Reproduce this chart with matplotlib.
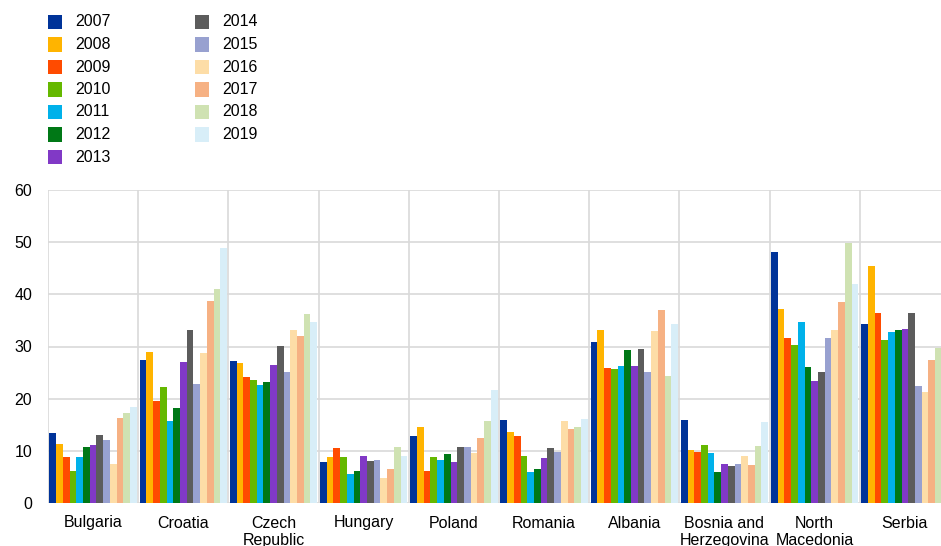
import numpy as np
import matplotlib
matplotlib.use("Agg")
import matplotlib.pyplot as plt
from matplotlib.patches import Rectangle

plt.rcParams['font.family'] = ['Liberation Sans', 'DejaVu Sans']

categories = ["Bulgaria", "Croatia", "Czech\nRepublic", "Hungary", "Poland",
              "Romania", "Albania", "Bosnia and\nHerzegovina", "North\nMacedonia", "Serbia"]
years = ["2007", "2008", "2009", "2010", "2011", "2012", "2013",
         "2014", "2015", "2016", "2017", "2018", "2019"]
colors = ["#003399", "#FFB400", "#FF4B00", "#65B800", "#00B1EA", "#007816", "#8139C6",
          "#5C5C5C", "#98A1D0", "#FDDDA7", "#F6B183", "#CFE2B2", "#D8EEF8"]

# values per country, one entry per year 2007..2019
bulgaria = [13.4, 11.3, 8.9, 6.2, 8.8, 10.7, 11.2, 13.0, 12.0, 7.5, 16.3, 17.2, 18.4]
croatia = [27.4, 29.0, 19.6, 22.3, 15.8, 18.2, 27.1, 33.1, 22.8, 28.8, 38.7, 41.0, 48.9]
czech = [27.2, 26.8, 24.2, 23.6, 22.7, 23.2, 26.4, 30.1, 25.1, 33.1, 32.0, 36.2, 34.7]
hungary = [7.8, 8.9, 10.6, 8.9, 5.6, 6.1, 9.0, 8.0, 8.2, 4.8, 6.6, 10.8, 9.0]
poland = [12.9, 14.5, 6.2, 8.9, 8.3, 9.3, 7.9, 10.7, 10.8, 9.5, 12.5, 15.7, 21.6]
romania = [15.9, 13.7, 12.9, 9.0, 6.0, 6.6, 8.6, 10.5, 9.8, 15.8, 14.2, 14.5, 16.1]
albania = [30.8, 33.1, 25.9, 25.7, 26.3, 29.3, 26.2, 29.5, 25.1, 33.0, 37.0, 24.4, 34.3]
bosnia = [15.9, 10.1, 9.7, 11.1, 9.5, 5.9, 7.5, 7.1, 7.5, 9.0, 7.3, 11.0, 15.5]
north_macedonia = [48.2, 37.2, 31.7, 30.3, 34.7, 26.0, 23.4, 25.1, 31.6, 33.2, 38.5, 49.9, 42.0]
serbia = [34.3, 45.5, 36.5, 31.3, 32.7, 33.1, 33.4, 36.4, 22.5, 21.3, 27.4, 29.7, np.nan]

table = np.array([bulgaria, croatia, czech, hungary, poland, romania,
                  albania, bosnia, north_macedonia, serbia])

W, H = 941, 546
fig = plt.figure(figsize=(W / 100, H / 100), dpi=100)

left_px, right_px, top_px, bottom_px = 48, 941, 190, 503
ax = fig.add_axes([left_px / W, (H - bottom_px) / H,
                   (right_px - left_px) / W, (bottom_px - top_px) / H])

cat_w_px = 90.2
n = len(years)
group_w = 0.968
bw = group_w / n
x = np.arange(len(categories))
grid_c = "#d9d9d9"

for k in range(len(categories) + 1):
    ax.axvline(k - 0.5, color=grid_c, lw=1.2, zorder=0)
for yv in [0, 10, 20, 30, 40, 50, 60]:
    ax.axhline(yv, color=grid_c, lw=1.2, zorder=0)

for j in range(n):
    ax.bar(x - group_w / 2 + (j + 0.5) * bw, table[:, j], width=bw,
           color=colors[j], edgecolor='none', zorder=2)

ax.set_ylim(0, 60)
ax.set_xlim(-0.5, -0.5 + (right_px - left_px) / cat_w_px)
ax.set_yticks([0, 10, 20, 30, 40, 50, 60])
ax.set_xticks(x)
ax.set_xticklabels(categories, fontsize=11.5)
ax.tick_params(axis='y', length=0, pad=11.5, labelsize=11.5)
ax.tick_params(axis='x', length=0, pad=9)
for s in ax.spines.values():
    s.set_visible(False)

# legend (two columns, 7 + 6)
for i, (yr, c) in enumerate(zip(years, colors)):
    col, row = divmod(i, 7)
    sx = 48 + col * 147
    cy = 22 + row * 22.5
    fig.patches.append(Rectangle((sx / W, (H - cy - 7) / H), 14 / W, 14 / H,
                                 transform=fig.transFigure, facecolor=c,
                                 edgecolor='none'))
    fig.text((sx + 27) / W, (H - cy) / H, yr, fontsize=11.5,
             va='center', ha='left')

fig.savefig("out.png", dpi=100)
